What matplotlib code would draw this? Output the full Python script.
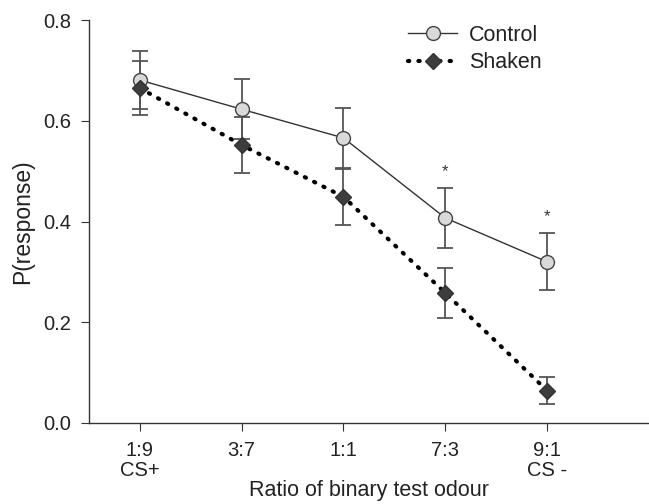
import matplotlib
matplotlib.use("Agg")
import matplotlib.pyplot as plt
import numpy as np

plt.rcParams.update({"font.size": 14, "font.family": ["Liberation Sans", "DejaVu Sans"]})

# ----------------------------------------------------------------------
# Data

ratios = ["1:9\nCS+", "3:7", "1:1", "7:3", "9:1\nCS -"]
control_mean = [0.681, 0.623, 0.566, 0.407, 0.320]
control_err = [0.057, 0.060, 0.060, 0.059, 0.057]
shaken_mean = [0.665, 0.552, 0.449, 0.258, 0.064]
shaken_err = [0.053, 0.056, 0.056, 0.050, 0.027]
stars = ["", "", "", "*", "*"]

# ----------------------------------------------------------------------

fig = plt.figure(figsize=(6.49, 5.04), dpi=100)
ax = fig.add_axes([0.137, 0.161, 0.863, 0.799])
x = np.arange(1, len(ratios) + 1)

ax.errorbar(x, shaken_mean, yerr=shaken_err, fmt="none", ecolor="#555555",
            elinewidth=1.3, capsize=6, capthick=1.3, zorder=2)
ax.errorbar(x, control_mean, yerr=control_err, fmt="none", ecolor="#555555",
            elinewidth=1.3, capsize=6, capthick=1.3, zorder=2)
ax.plot(x, control_mean, color="#333333", lw=1.0, marker="o", ms=10,
        mfc="#d9d9d9", mec="#444444", mew=1.0, label="Control", zorder=3)
ax.plot(x, shaken_mean, color="black", lw=3, ls=(0, (0.3, 2.2)),
        dash_capstyle="round", marker="D", ms=8, mfc="#3d3d3d", mec="#333333",
        mew=1.0, label="Shaken", zorder=4)

# Significance markers above control error bars
for xi, m, e, s in zip(x, control_mean, control_err, stars):
    if s:
        ax.text(xi, m + e + 0.033, s, ha="center", va="center", fontsize=12,
                color="#333333")

ax.set_xlim(0.5, 6.0)
ax.set_ylim(0.0, 0.8)
ax.set_xticks(x)
ax.set_xticklabels(ratios, color="#222222", linespacing=1.1, fontsize=14.5)
ax.set_yticks([0.0, 0.2, 0.4, 0.6, 0.8])
ax.set_yticklabels(["0.0", "0.2", "0.4", "0.6", "0.8"], color="#222222", fontsize=14.5)
ax.set_xlabel("Ratio of binary test odour", fontsize=15.5, labelpad=0, color="#222222")
ax.set_ylabel("P(response)", fontsize=16.5, labelpad=6, color="#222222")

for side in ["top", "right"]:
    ax.spines[side].set_visible(False)
for side in ["left", "bottom"]:
    ax.spines[side].set_color("#333333")
    ax.spines[side].set_linewidth(1.0)
ax.tick_params(direction="out", length=6, color="#333333")
ax.tick_params(axis="x", pad=7)
ax.tick_params(axis="y", pad=7)

leg = ax.legend(loc="upper left", bbox_to_anchor=(0.535, 1.037), frameon=False,
                handlelength=2.3, handletextpad=0.55, labelspacing=0.3, fontsize=15.5)
for t in leg.get_texts():
    t.set_color("#222222")

plt.savefig("out.png", dpi=100)
